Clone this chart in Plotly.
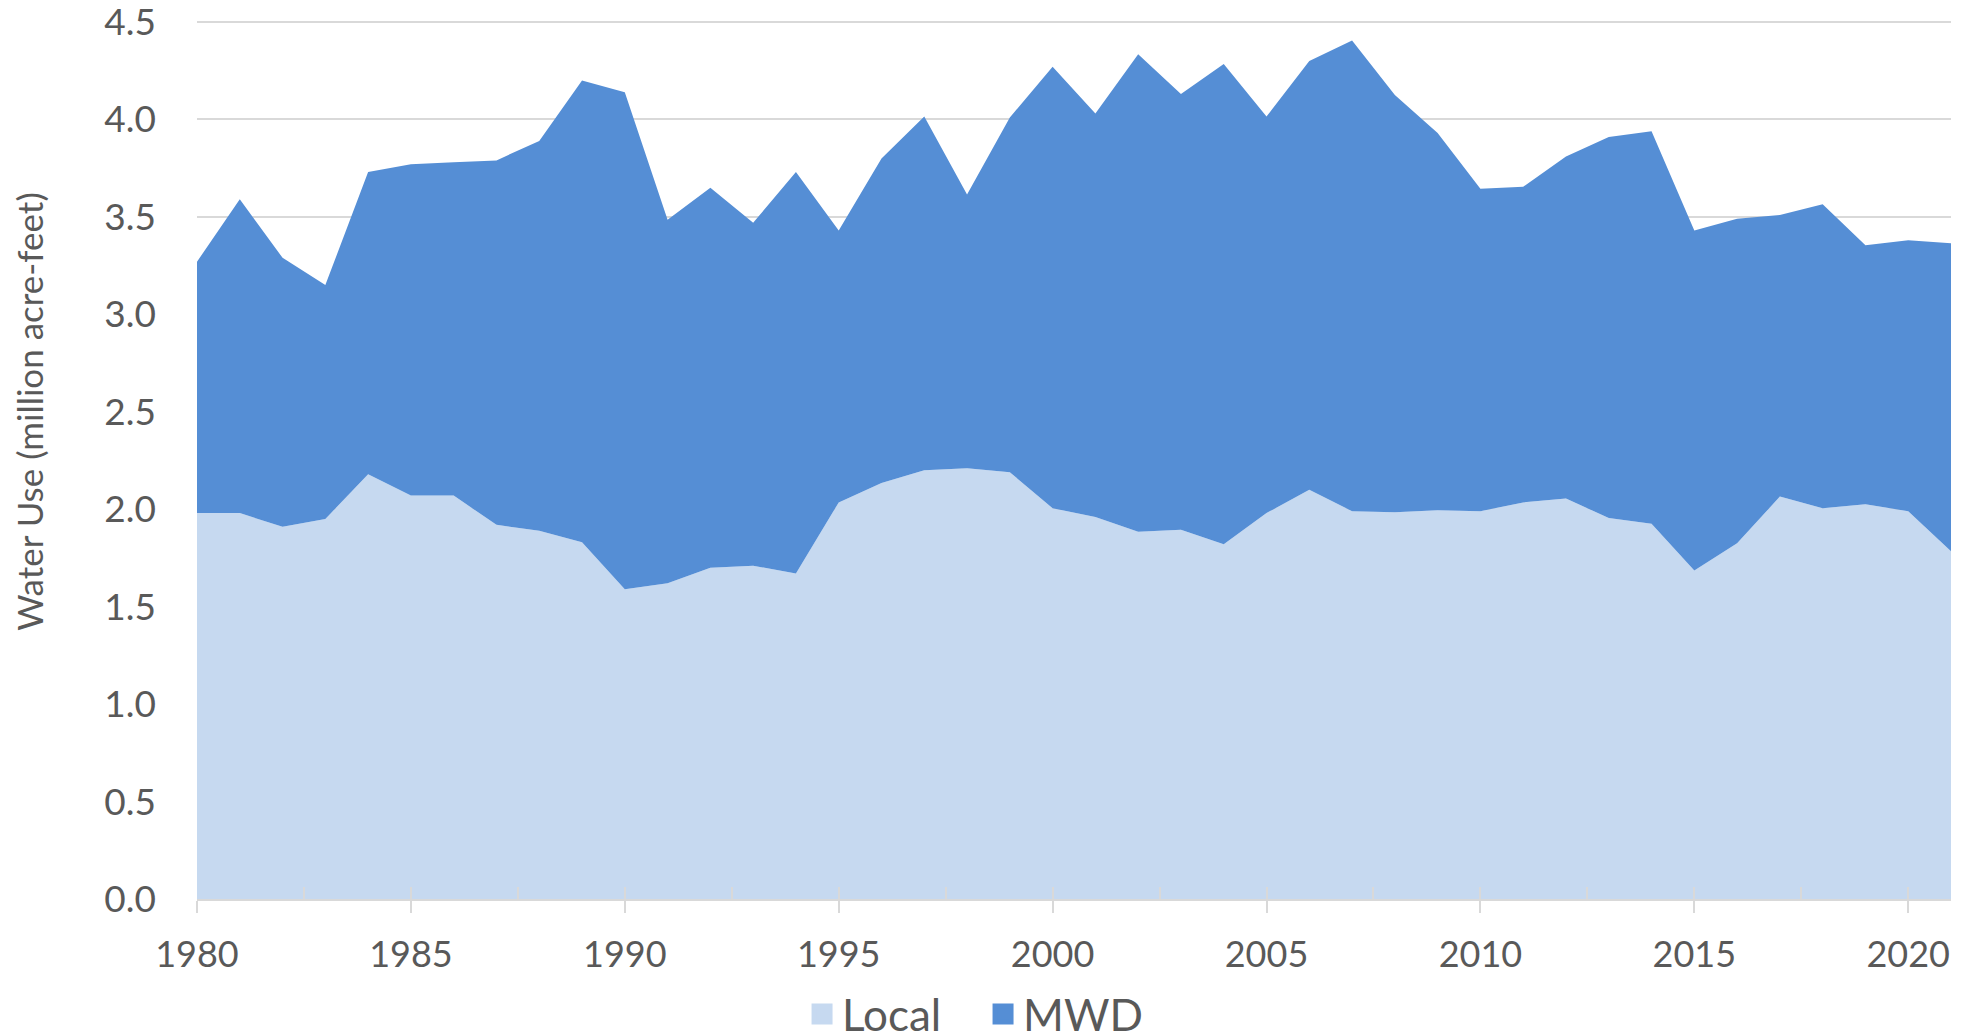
import plotly.graph_objects as go

# Annual water use by source, million acre-feet
years = list(range(1980, 2022))

local = [1.98, 1.98, 1.91, 1.95, 2.18, 2.07, 2.07, 1.92, 1.89, 1.83,
         1.59, 1.62, 1.70, 1.71, 1.67, 2.035, 2.135, 2.20, 2.21, 2.19,
         2.005, 1.96, 1.885, 1.895, 1.82, 1.98, 2.10, 1.99, 1.985, 1.995,
         1.99, 2.035, 2.055, 1.955, 1.925, 1.685, 1.825, 2.065, 2.005, 2.025,
         1.99, 1.785]

mwd = [1.29, 1.61, 1.38, 1.20, 1.55, 1.70, 1.71, 1.87, 2.00, 2.37,
       2.55, 1.865, 1.95, 1.76, 2.06, 1.395, 1.665, 1.815, 1.405, 1.82,
       2.265, 2.07, 2.45, 2.235, 2.465, 2.035, 2.20, 2.415, 2.14, 1.935,
       1.655, 1.62, 1.755, 1.955, 2.015, 1.745, 1.665, 1.445, 1.56, 1.33,
       1.39, 1.58]

series_names = ["Local", "MWD"]
series_colors = ["#C6D9F0", "#558ED5"]

TEXT = "#595959"
GRID = "#D9D9D9"
FONT = "Lato, 'Open Sans', sans-serif"

fig = go.Figure()

# Stacked areas
for name, vals, color in zip(series_names, [local, mwd], series_colors):
    fig.add_trace(go.Scatter(
        x=years, y=vals, name=name, mode="none",
        stackgroup="water", fill="tonexty", fillcolor=color,
        showlegend=False, hoverinfo="x+y+name",
    ))

# Square legend swatches
for name, color in zip(series_names, series_colors):
    fig.add_trace(go.Scatter(
        x=[None], y=[None], name=name, mode="markers", xaxis="x2",
        marker=dict(symbol="square", size=16, color=color,
                    line=dict(color=color, width=5)),
        showlegend=True,
    ))

fig.update_layout(
    width=1972, height=1035,
    margin=dict(l=197, r=21, t=20, b=136, autoexpand=False),
    paper_bgcolor="white", plot_bgcolor="white",
    font=dict(family=FONT, color=TEXT, size=36),
    xaxis=dict(
        range=[1980, 2021], tick0=1980, dtick=5,
        showgrid=False, zeroline=False,
        showline=True, linecolor=GRID, linewidth=1.5,
        ticks="outside", ticklen=12, tickwidth=1.5, tickcolor=GRID,
        ticklabelstandoff=11,
        tickfont=dict(size=36, color=TEXT, family=FONT),
    ),
    xaxis2=dict(
        range=[1980, 2021], overlaying="x", anchor="y", side="bottom",
        tick0=1980, dtick=2.5, showgrid=False, zeroline=False,
        showline=False, showticklabels=False,
        ticks="inside", ticklen=12, tickwidth=1.5, tickcolor=GRID,
    ),
    yaxis=dict(
        range=[0, 4.5103], tick0=0, dtick=0.5, tickformat=".1f",
        showgrid=True, gridcolor=GRID, gridwidth=1.5,
        zeroline=False, showline=False, ticks="",
        ticklabelstandoff=40, ticklabeloverflow="allow",
        tickfont=dict(size=37, color=TEXT, family=FONT),
    ),
    legend=dict(
        orientation="h", xref="container", yref="container",
        x=0.4985, xanchor="center", y=0.02, yanchor="middle",
        traceorder="normal", entrywidth=136, entrywidthmode="pixels",
        font=dict(size=44, color=TEXT, family=FONT),
        itemclick=False, itemdoubleclick=False,
        bgcolor="rgba(0,0,0,0)",
    ),
    annotations=[dict(
        text="Water Use (million acre-feet)", textangle=-90,
        xref="paper", yref="paper", x=-0.096, y=0.554,
        xanchor="center", yanchor="middle", showarrow=False,
        font=dict(size=35, color=TEXT, family=FONT),
    )],
)

fig.write_html("out.html")
